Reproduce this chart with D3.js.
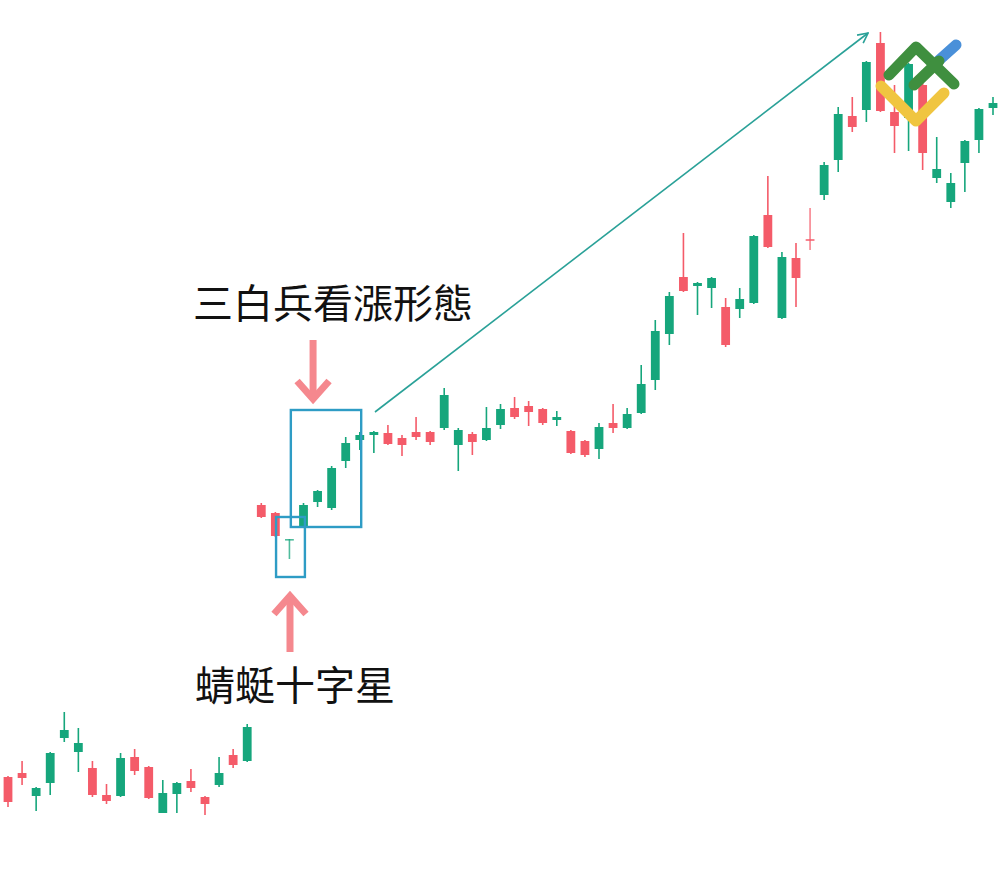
<!DOCTYPE html>
<html>
<head>
<meta charset="utf-8">
<script src="https://cdn.jsdelivr.net/npm/d3@7"></script>
<style>
html,body{margin:0;padding:0;background:#fff;}
svg{display:block;}
</style>
</head>
<body>
<svg id="chart" width="1000" height="891"></svg>
<script>
// ---- data (price units) ----
const opens  = [12.3,12.7,10.4,11.7,16.2,14.8,13.2,10.5,10.4,14.3,13.3,8.7,10.6,11.9,10.3,11.5,14.5,13.9,
                39.5,38.7,36.0,37.2,39.8,39.2,43.9,46.0,46.5,46.7,46.2,46.8,46.8,47.2,45.5,46.6,46.0,47.5,49.2,49.4,49.1,48.0,46.9,45.9,45.1,47.7,47.2,
                48.7,52.0,56.6,62.3,61.4,61.2,59.3,59.1,59.7,68.5,58.2,64.2,66.1,70.5,74.0,78.4,79.0,85.7,78.8,78.2,81.5,72.2,69.8,73.7,76.0,79.2];
const highs  = [12.4,13.9,11.3,14.8,18.8,17.2,13.9,11.6,14.7,15.1,13.4,12.0,11.8,13.1,10.4,14.3,15.1,17.6,
                39.7,38.8,36.1,39.7,41.0,43.4,46.3,46.8,46.9,47.5,46.5,48.3,46.9,51.2,47.2,46.8,49.3,49.6,50.3,49.9,49.2,48.9,47.0,46.0,47.7,49.6,49.2,
                53.5,58.0,60.8,66.7,61.8,62.3,60.2,61.2,66.5,72.4,64.8,65.7,69.2,73.8,79.3,80.3,83.9,86.8,81.5,83.7,82.5,76.3,72.7,76.0,79.2,80.3];
const lows   = [9.3,11.5,8.9,10.5,15.8,12.8,10.3,9.6,10.3,12.5,10.1,8.7,8.7,10.8,8.5,11.3,13.2,13.8,
                38.2,36.3,34.1,37.2,39.3,39.0,43.2,45.0,44.7,45.5,44.4,46.0,45.5,47.0,42.9,44.5,45.9,47.1,48.1,47.4,47.5,47.4,44.6,44.3,44.1,46.7,47.1,
                48.6,51.0,55.5,60.8,58.5,59.2,55.3,58.2,59.6,65.2,58.1,59.3,65.0,70.0,72.8,76.8,77.8,78.8,74.7,74.9,73.0,71.7,69.2,70.8,74.7,78.5];
const closes = [9.8,12.2,11.2,14.7,17.0,15.7,10.5,9.9,14.2,12.9,10.2,10.7,11.7,11.2,9.6,12.7,13.5,17.3,
                38.3,36.4,36.1,39.5,40.9,43.2,45.7,46.5,46.8,45.6,45.5,46.3,45.8,50.5,47.0,45.8,47.2,49.1,48.3,48.8,47.7,48.3,44.7,44.5,47.3,47.2,48.6,
                51.6,56.9,60.4,60.9,61.7,62.2,55.5,60.1,66.4,65.3,64.3,62.2,65.9,73.5,78.6,77.3,83.8,78.9,77.4,83.6,74.7,73.1,71.7,75.9,79.1,79.7];

// annotation anchors: [index, price]
const labels = ["三白兵看漲形態", "蜻蜓十字星"];
const labelAnchors = [[23.1, 59.9], [20.4, 21.7]];
const boxes = [ [20.1, 25.1, 49.0, 37.3], [19.05, 21.1, 38.3, 32.3] ]; // idx0, idx1, priceTop, priceBottom
const trendArrow = [[26.08, 48.8], [61.12, 86.7]];
const pinkArrows = [ {x: 21.68, from: 56.0, to: 49.8}, {x: 20.04, from: 24.8, to: 30.7} ];

// ---- scales ----
const svg = d3.select("#chart");
const x = d3.scaleLinear().domain([0, 70]).range([8, 993]);
const y = d3.scaleLinear().domain([0, 90]).range([900, 0]);

const GREEN = "#16a67c", RED = "#f45b69", BOX = "#2e9cc5", PINK = "#f5888e", TEAL = "#2aa198";

const candles = opens.map((o, i) => ({i, o, h: highs[i], l: lows[i], c: closes[i]}));

const g = svg.append("g");
// wicks
g.selectAll("line.wick").data(candles).join("line")
  .attr("class", "wick")
  .attr("x1", d => x(d.i)).attr("x2", d => x(d.i))
  .attr("y1", d => y(d.h)).attr("y2", d => y(d.l))
  .attr("stroke", d => d.c >= d.o ? GREEN : RED)
  .attr("stroke-opacity", d => Math.abs(d.c - d.o) < 0.2 ? 0.75 : 1)
  .attr("stroke-width", 1.6);
// bodies
const bw = 8.8;
g.selectAll("rect.body").data(candles).join("rect")
  .attr("class", "body")
  .attr("x", d => x(d.i) - bw / 2)
  .attr("width", bw)
  .attr("y", d => y(Math.max(d.o, d.c)))
  .attr("height", d => Math.max(1.6, Math.abs(y(d.o) - y(d.c))))
  .attr("fill", d => d.c >= d.o ? GREEN : RED)
  .attr("fill-opacity", d => Math.abs(d.c - d.o) < 0.2 ? 0.75 : 1);

// boxes
svg.selectAll("rect.box").data(boxes).join("rect")
  .attr("class", "box")
  .attr("x", d => x(d[0])).attr("width", d => x(d[1]) - x(d[0]))
  .attr("y", d => y(d[2])).attr("height", d => y(d[3]) - y(d[2]))
  .attr("fill", "none").attr("stroke", BOX).attr("stroke-width", 2.4);

// trend arrow
const defs = svg.append("defs");
defs.append("marker").attr("id", "ah").attr("viewBox", "0 0 12 12")
  .attr("refX", 11).attr("refY", 6).attr("markerWidth", 12).attr("markerHeight", 12)
  .attr("markerUnits", "userSpaceOnUse").attr("orient", "auto")
  .append("path").attr("d", "M1,1 L11,6 L1,11").attr("fill", "none")
  .attr("stroke", TEAL).attr("stroke-width", 1.6);
svg.append("line")
  .attr("x1", x(trendArrow[0][0])).attr("y1", y(trendArrow[0][1]))
  .attr("x2", x(trendArrow[1][0])).attr("y2", y(trendArrow[1][1]))
  .attr("stroke", TEAL).attr("stroke-width", 1.6).attr("marker-end", "url(#ah)");

// pink arrows
pinkArrows.forEach(a => {
  const px = x(a.x), y0 = y(a.from), y1 = y(a.to);
  const dir = y1 > y0 ? 1 : -1;
  const tip = y1 - dir * 3;
  svg.append("line").attr("x1", px).attr("x2", px).attr("y1", y0).attr("y2", tip)
    .attr("stroke", PINK).attr("stroke-width", 7);
  svg.append("path")
    .attr("d", `M${px - 16},${tip - dir * 18} L${px},${tip} L${px + 16},${tip - dir * 18}`)
    .attr("fill", "none").attr("stroke", PINK).attr("stroke-width", 7)
    .attr("stroke-linejoin", "miter");
});

// labels
svg.selectAll("text.lbl").data(labels).join("text")
  .attr("class", "lbl")
  .attr("x", (d, i) => x(labelAnchors[i][0]))
  .attr("y", (d, i) => y(labelAnchors[i][1]))
  .attr("text-anchor", "middle").attr("dominant-baseline", "central")
  .attr("font-family", "'Noto Sans CJK TC','Noto Sans CJK SC',sans-serif")
  .attr("font-size", 40).attr("font-weight", 400).attr("fill", "#111")
  .text(d => d);

// logo (decorative)
const logo = svg.append("g").attr("fill", "none").attr("stroke-linecap", "round").attr("stroke-linejoin", "round").attr("stroke-width", 11);
logo.append("path").attr("d", "M937,62 L956,45").attr("stroke", "#4a90d9");
logo.append("path").attr("d", "M881,86 L916,121 L944,93").attr("stroke", "#f0c540");
logo.append("path").attr("d", "M889,75 L916,47 L954,84").attr("stroke", "#3f8f3f");
logo.append("path").attr("d", "M914,85 L939,61").attr("stroke", "#3f8f3f");
</script>
</body>
</html>
